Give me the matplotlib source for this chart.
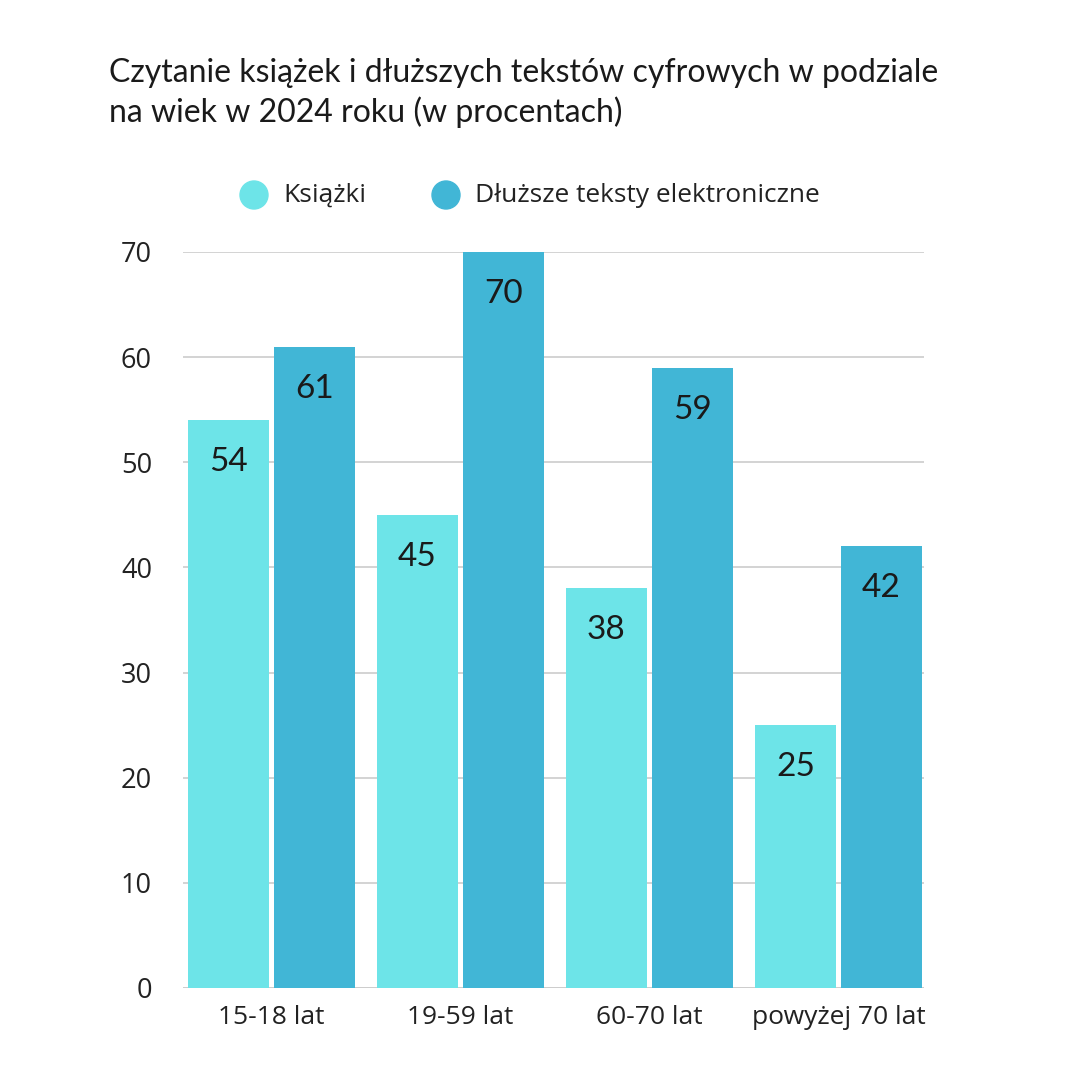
import numpy as np
import matplotlib.pyplot as plt

categories = ['15-18 lat', '19-59 lat', '60-70 lat', 'powyżej 70 lat']
ksiazki = [54, 45, 38, 25]
teksty = [61, 70, 59, 42]
yticks = [0, 10, 20, 30, 40, 50, 60, 70]

c1 = '#6de4e8'
c2 = '#41b6d6'

fig = plt.figure(figsize=(10.8, 10.8), dpi=100)
ax = fig.add_axes([0.169, 0.0852, 0.687, 0.6815])

x = np.arange(len(categories))
w = 0.43
off = 0.228
b1 = ax.bar(x - off, ksiazki, w, color=c1, zorder=2)
b2 = ax.bar(x + off, teksty, w, color=c2, zorder=2)

for bars, vals in [(b1, ksiazki), (b2, teksty)]:
    for b, v in zip(bars, vals):
        ax.text(b.get_x() + b.get_width() / 2, v - 4, str(v), ha='center', va='center',
                fontsize=24, family='Lato', color='#1a1a1a', zorder=3)

ax.set_xlim(-0.47, 3.455)
ax.set_ylim(0, 70)
ax.set_yticks(yticks)
ax.set_xticks(x)
ax.set_xticklabels(categories, fontsize=19, family='Open Sans', color='#222222')
ax.tick_params(axis='y', labelsize=19.5, colors='#222222', length=0, pad=22)
ax.tick_params(axis='x', length=0, pad=12)
for lbl in ax.get_yticklabels():
    lbl.set_family('Open Sans')
ax.yaxis.grid(True, color='#cccccc', linewidth=1.2, zorder=0)
for s in ax.spines.values():
    s.set_visible(False)
ax.axhline(0, color='#cccccc', linewidth=1.2, zorder=1)

fig.text(0.101, 0.946, 'Czytanie książek i dłuższych tekstów cyfrowych w podziale\nna wiek w 2024 roku (w procentach)',
         ha='left', va='top', fontsize=23, family='Lato', color='#1a1a1a', linespacing=1.3)

# legend
fig.patches.append(plt.Circle((254 / 1080, 1 - 195 / 1080), 14 / 1080, color=c1, transform=fig.transFigure, figure=fig))
fig.patches.append(plt.Circle((446 / 1080, 1 - 195 / 1080), 14 / 1080, color=c2, transform=fig.transFigure, figure=fig))
fig.text(283 / 1080, 1 - 195 / 1080, 'Książki', ha='left', va='center', fontsize=19, family='Open Sans', color='#222222')
fig.text(475 / 1080, 1 - 195 / 1080, 'Dłuższe teksty elektroniczne', ha='left', va='center', fontsize=19, family='Open Sans', color='#222222')

fig.savefig('out.png', dpi=100, facecolor='white')
